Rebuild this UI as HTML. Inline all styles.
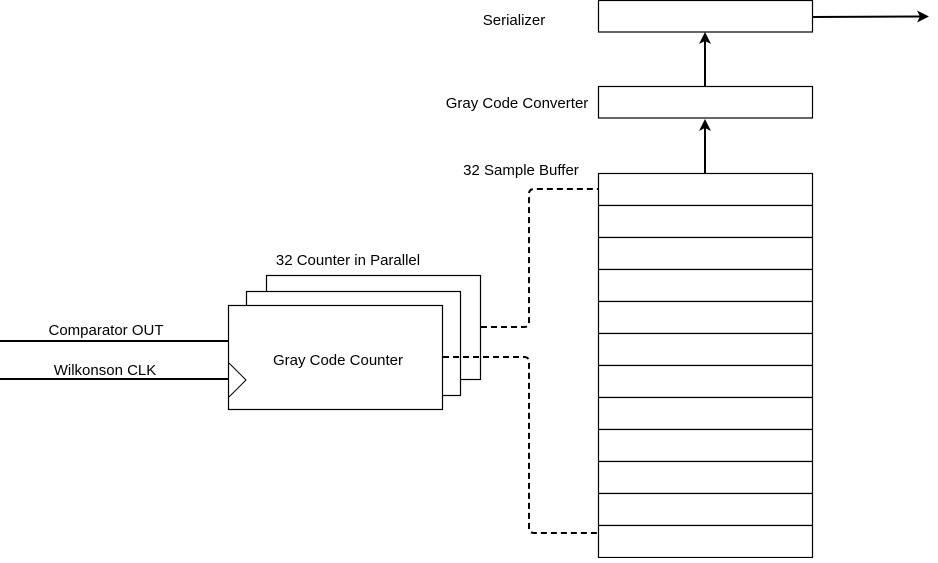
<!DOCTYPE html>
<html><head><style>body{margin:0;background:#fff}</style></head><body>
<svg width="938" height="558" xmlns="http://www.w3.org/2000/svg" font-family="Liberation Sans, sans-serif" font-size="15">
<g fill="#fff" stroke="#000" stroke-width="1.2">
<rect x="598.5" y="0.5" width="214" height="31.5"/>
<rect x="598.5" y="86.5" width="214" height="31.5"/>
<rect x="266.5" y="275.5" width="214" height="104"/>
<rect x="246.5" y="291.5" width="214" height="104"/>
<rect x="228.5" y="305.5" width="214" height="104"/>
</g>
<g fill="#fff" stroke="#000" stroke-width="1.2">
<rect x="598.5" y="173.5" width="214" height="32"/><rect x="598.5" y="205.5" width="214" height="32"/>
<rect x="598.5" y="237.5" width="214" height="32"/><rect x="598.5" y="269.5" width="214" height="32"/>
<rect x="598.5" y="301.5" width="214" height="32"/><rect x="598.5" y="333.5" width="214" height="32"/>
<rect x="598.5" y="365.5" width="214" height="32"/><rect x="598.5" y="397.5" width="214" height="32"/>
<rect x="598.5" y="429.5" width="214" height="32"/><rect x="598.5" y="461.5" width="214" height="32"/>
<rect x="598.5" y="493.5" width="214" height="32"/><rect x="598.5" y="525.5" width="214" height="32"/>
</g>
<path d="M229 363 L246 380 L229 397" fill="none" stroke="#000" stroke-width="1"/>
<g stroke="#000" stroke-width="2" fill="none">
<line x1="0" y1="341" x2="228" y2="341"/>
<line x1="0" y1="379" x2="228" y2="379"/>
<line x1="705" y1="173" x2="705" y2="127"/>
<line x1="705" y1="86" x2="705" y2="40"/>
<line x1="812" y1="17" x2="920" y2="16.5"/>
<path d="M481 327 H524 Q529 327 529 322 V194 Q529 189 534 189 H598" stroke-dasharray="6,4"/>
<path d="M443 357 H524 Q529 357 529 362 V528 Q529 533 534 533 H598" stroke-dasharray="6,4"/>
</g>
<g fill="#000">
<path d="M705 32 L711 44 L705 41 L699 44 Z"/>
<path d="M705 119 L711 131 L705 128 L699 131 Z"/>
<path d="M929 16.5 L917 22.5 L920 16.5 L917 10.5 Z"/>
</g>
<g fill="#000">
<text x="514" y="25" text-anchor="middle">Serializer</text>
<text x="517" y="108" text-anchor="middle">Gray Code Converter</text>
<text x="521" y="175" text-anchor="middle">32 Sample Buffer</text>
<text x="348" y="265" text-anchor="middle">32 Counter in Parallel</text>
<text x="338" y="365" text-anchor="middle">Gray Code Counter</text>
<text x="106" y="335" text-anchor="middle">Comparator OUT</text>
<text x="105" y="375" text-anchor="middle">Wilkonson CLK</text>
</g>
</svg>
</body></html>
